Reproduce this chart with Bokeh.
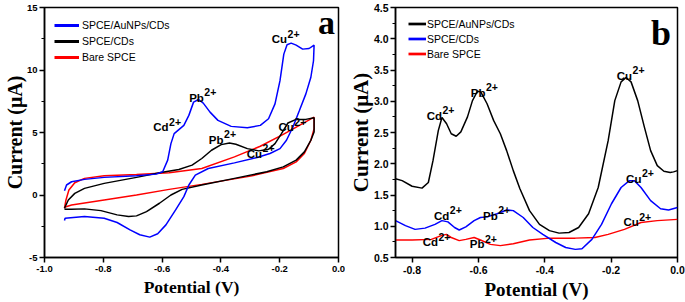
from bokeh.plotting import figure
from bokeh.layouts import row
from bokeh.models import (ColumnDataSource, Legend, LegendItem, FixedTicker,
                          SingleIntervalTicker, PrintfTickFormatter, Label, Range1d)
from bokeh.embed import file_html
from bokeh.resources import INLINE
from bokeh.core.properties import value

# ---------------- Panel a : cyclic voltammograms ----------------
a_blue_x = [-0.932, -0.925, -0.908, -0.864, -0.797, -0.687, -0.620, -0.598, -0.581, -0.570,
            -0.559, -0.543, -0.526, -0.509, -0.493, -0.476, -0.460, -0.437, -0.410, -0.365,
            -0.310, -0.266, -0.238, -0.216, -0.199, -0.186, -0.175, -0.161, -0.144, -0.122,
            -0.100, -0.083,
            -0.085, -0.094, -0.111, -0.133, -0.155, -0.177, -0.199, -0.233, -0.277, -0.354,
            -0.443, -0.487, -0.509, -0.526, -0.554, -0.587, -0.615, -0.642, -0.676, -0.709,
            -0.753, -0.797, -0.864, -0.930, -0.932]
a_blue_y = [0.34, 0.80, 1.06, 1.25, 1.41, 1.54, 1.67, 1.86, 2.79, 4.11,
            4.91, 5.23, 5.57, 6.37, 7.43, 7.64, 7.35, 6.63, 5.97, 5.49,
            5.38, 5.57, 6.10, 7.29, 9.15, 11.27, 12.02, 12.15, 11.99, 11.67,
            11.72, 11.99,
            10.74, 9.42, 8.09, 6.76, 5.44, 4.38, 3.71, 3.32, 3.00, 2.57,
            2.12, 1.59, 0.80, -0.13, -1.19, -2.39, -3.10, -3.37, -3.18, -2.79,
            -2.20, -1.86, -1.72, -1.86, -2.04]

a_black_x = [-0.932, -0.919, -0.897, -0.864, -0.797, -0.687, -0.609, -0.543, -0.498, -0.465,
             -0.432, -0.399, -0.371, -0.349, -0.310, -0.271, -0.238, -0.216, -0.194, -0.172,
             -0.144, -0.111, -0.083,
             -0.083, -0.094, -0.116, -0.144, -0.188, -0.244, -0.354, -0.465, -0.532, -0.570,
             -0.609, -0.653, -0.687, -0.714, -0.753, -0.808, -0.864, -0.908, -0.932]
a_black_y = [-1.06, -0.40, 0.13, 0.53, 0.93, 1.41, 1.78, 2.04, 2.39, 2.92,
             3.58, 4.03, 4.16, 4.06, 3.71, 3.53, 3.66, 4.11, 4.91, 5.76,
             6.05, 6.05, 6.18,
             5.04, 4.38, 3.45, 2.79, 2.25, 1.86, 1.33, 0.80, 0.45, 0.00,
             -0.66, -1.33, -1.67, -1.72, -1.59, -1.25, -1.11, -1.14, -1.14]

a_red_x = [-0.932, -0.927, -0.917, -0.897, -0.864, -0.797, -0.687, -0.576, -0.465, -0.354,
           -0.266, -0.188, -0.133, -0.083,
           -0.083, -0.094, -0.116, -0.144, -0.188, -0.299, -0.465, -0.576, -0.687, -0.797,
           -0.908, -0.932]
a_red_y = [-1.06, -0.40, 0.40, 0.98, 1.33, 1.54, 1.64, 1.78, 2.12, 3.05,
           3.90, 4.85, 5.57, 6.23,
           5.31, 4.38, 3.32, 2.65, 2.12, 1.51, 0.85, 0.45, 0.00, -0.40,
           -0.80, -0.98]

a_series = ["SPCE/AuNPs/CDs", "SPCE/CDs", "Bare SPCE"]
a_xticks = [-1.0, -0.8, -0.6, -0.4, -0.2, 0.0]

a_ann_ion = ["Cu", "Pb", "Cd", "Pb", "Cu", "Cu"]
a_ann_x = [-0.227, -0.508, -0.630, -0.441, -0.312, -0.204]
a_ann_y = [12.46, 7.80, 5.42, 4.42, 3.31, 5.42]

# ---------------- Panel b : differential pulse voltammograms ----------------
b_black_x = [-0.850, -0.830, -0.800, -0.770, -0.751, -0.737, -0.721, -0.710, -0.696, -0.682,
             -0.667, -0.653, -0.633, -0.618, -0.603, -0.593, -0.574, -0.554, -0.534, -0.515,
             -0.495, -0.475, -0.446, -0.416, -0.386, -0.357, -0.327, -0.298, -0.268, -0.239,
             -0.209, -0.189, -0.170, -0.155, -0.140, -0.120, -0.100, -0.081, -0.061, -0.041,
             -0.022, -0.012, 0.0]
b_black_y = [1.76, 1.73, 1.64, 1.61, 1.70, 2.05, 2.53, 2.74, 2.64, 2.48,
             2.44, 2.51, 2.75, 3.01, 3.16, 3.15, 2.96, 2.69, 2.48, 2.21,
             1.89, 1.60, 1.25, 1.03, 0.93, 0.89, 0.90, 0.98, 1.20, 1.62,
             2.37, 3.01, 3.31, 3.38, 3.31, 3.01, 2.59, 2.21, 1.97, 1.88,
             1.86, 1.87, 1.89]

b_blue_x = [-0.850, -0.820, -0.791, -0.761, -0.731, -0.710, -0.692, -0.672, -0.658, -0.638,
            -0.613, -0.594, -0.574, -0.544, -0.515, -0.495, -0.465, -0.436, -0.406, -0.367,
            -0.337, -0.308, -0.288, -0.258, -0.229, -0.199, -0.170, -0.145, -0.130, -0.110,
            -0.081, -0.051, -0.027, 0.0]
b_blue_y = [1.09, 1.01, 0.95, 0.97, 1.03, 1.09, 1.07, 0.98, 0.94, 0.99,
            1.09, 1.14, 1.15, 1.20, 1.26, 1.25, 1.14, 0.98, 0.87, 0.74,
            0.66, 0.63, 0.64, 0.79, 1.03, 1.36, 1.62, 1.73, 1.73, 1.62,
            1.41, 1.28, 1.26, 1.30]

b_red_x = [-0.850, -0.800, -0.742, -0.712, -0.697, -0.682, -0.658, -0.638, -0.613, -0.594,
           -0.564, -0.534, -0.495, -0.446, -0.386, -0.308, -0.249, -0.209, -0.160, -0.110,
           -0.061, 0.0]
b_red_y = [0.78, 0.78, 0.79, 0.85, 0.87, 0.82, 0.77, 0.79, 0.82, 0.78,
           0.71, 0.69, 0.72, 0.78, 0.81, 0.81, 0.82, 0.87, 0.95, 1.06,
           1.09, 1.11]

b_series = ["SPCE/AuNPs/CDs", "SPCE/CDs", "Bare SPCE"]
b_xticks = [-0.8, -0.6, -0.4, -0.2, 0.0]

b_ann_ion = ["Cu", "Pb", "Cd", "Cu", "Cd", "Pb", "Cu", "Cd", "Pb"]
b_ann_x = [-0.183, -0.623, -0.756, -0.155, -0.734, -0.586, -0.163, -0.768, -0.626]
b_ann_y = [3.41, 3.14, 2.77, 1.757, 1.17, 1.17, 1.064, 0.745, 0.71]

charge = "2+"

# ---------------- styling helpers ----------------
BLUE = "#0000ff"
RED = "#ff0000"
BLACK = "#000000"
SANS = "Liberation Sans"
SERIF = "Liberation Serif"
CHAR_W = {"C": 0.722, "u": 0.611, "P": 0.667, "b": 0.611, "d": 0.611}
NAN = float("nan")


def style_axes(p, tick_size, xlab_size, ylab_size, ylab_standoff, tick_standoff_y):
    p.xgrid.visible = False
    p.ygrid.visible = False
    p.outline_line_color = "black"
    p.outline_line_width = 1.5
    p.outline_line_alpha = 1.0
    p.background_fill_color = "white"
    p.border_fill_color = "white"
    for ax in (p.xaxis[0], p.yaxis[0]):
        ax.axis_line_width = 1.5
        ax.major_tick_line_width = 1.5
        ax.minor_tick_line_width = 1.2
        ax.major_tick_in = 0
        ax.major_tick_out = 5
        ax.minor_tick_in = 0
        ax.minor_tick_out = 3
        ax.major_label_text_font = SANS
        ax.major_label_text_font_style = "bold"
        ax.major_label_text_font_size = tick_size
        ax.major_label_text_color = "black"
        ax.axis_label_text_font = SERIF
        ax.axis_label_text_font_style = "bold"
        ax.axis_label_text_color = "black"
    p.xaxis[0].axis_label_text_font_size = xlab_size
    p.yaxis[0].axis_label_text_font_size = ylab_size
    p.xaxis[0].major_label_standoff = 3
    p.xaxis[0].axis_label_standoff = 2
    p.yaxis[0].major_label_standoff = tick_standoff_y
    p.yaxis[0].axis_label_standoff = ylab_standoff


def add_annotations(p, ions, xs, ys):
    offs = [sum(CHAR_W[c] for c in ion) * 11.5 + 0.5 for ion in ions]
    src = ColumnDataSource(dict(x=xs, y=ys, t=ions, sup=[charge] * len(ions), off=offs))
    p.text(x="x", y="y", text="t", source=src, text_font=value(SANS), text_font_style="bold",
           text_font_size="11.5px", text_color="black", text_align="left",
           text_baseline="alphabetic")
    p.text(x="x", y="y", text="sup", x_offset="off", y_offset=-5.5, source=src,
           text_font=value(SANS), text_font_style="bold", text_font_size="10.5px",
           text_color="black", text_align="left", text_baseline="alphabetic")


def add_legend(p, names, colors, loc, glyph_w, row_h, standoff, lw):
    items = []
    for name, col in zip(names, colors):
        r = p.line(x=[NAN, NAN], y=[NAN, NAN], line_color=col, line_width=lw)
        items.append(LegendItem(label=name, renderers=[r]))
    leg = Legend(items=items, location=loc, orientation="vertical",
                 border_line_color=None, background_fill_alpha=0.0,
                 padding=0, margin=0, spacing=0,
                 glyph_width=glyph_w, glyph_height=row_h, label_height=row_h,
                 label_standoff=standoff, label_text_font=SANS,
                 label_text_font_size="10.5px", label_text_color="black")
    p.add_layout(leg)


# ---------------- figure a ----------------
pa = figure(width=345, height=302, output_backend="svg", toolbar_location=None,
            x_range=Range1d(-1.0, 0.0), y_range=Range1d(-5, 15),
            min_border_left=38, min_border_right=7, min_border_top=6, min_border_bottom=44,
            x_axis_label="Potential (V)", y_axis_label="Current (\u03bcA)")
pa.xaxis[0].ticker = FixedTicker(ticks=a_xticks)
pa.xaxis[0].formatter = PrintfTickFormatter(format="%.1f")
pa.yaxis[0].ticker = SingleIntervalTicker(interval=5, num_minor_ticks=2)
pa.yaxis[0].formatter = PrintfTickFormatter(format="%d")
style_axes(pa, "9.5px", "17.5px", "20px", -2, 2)

pa.line(a_red_x, a_red_y, line_color=RED, line_width=1.5)
pa.line(a_black_x, a_black_y, line_color=BLACK, line_width=1.5)
pa.line(a_blue_x, a_blue_y, line_color=BLUE, line_width=1.5)
add_annotations(pa, a_ann_ion, a_ann_x, a_ann_y)
add_legend(pa, a_series, [BLUE, BLACK, RED], (10, 192), 25, 16, 3, 3)
pa.add_layout(Label(x=-0.07, y=13.8, text="a", text_font=SERIF, text_font_style="bold",
                    text_font_size="34px", text_color="black", text_baseline="alphabetic"))

# ---------------- figure b ----------------
pb = figure(width=340, height=302, output_backend="svg", toolbar_location=None,
            x_range=Range1d(-0.85, 0.0), y_range=Range1d(0.5, 4.5),
            min_border_left=44, min_border_right=8, min_border_top=7, min_border_bottom=45,
            x_axis_label="Potential (V)", y_axis_label="Current (\u03bcA)")
pb.xaxis[0].ticker = FixedTicker(ticks=b_xticks)
pb.xaxis[0].formatter = PrintfTickFormatter(format="%.1f")
pb.yaxis[0].ticker = SingleIntervalTicker(interval=0.5, num_minor_ticks=2)
pb.yaxis[0].formatter = PrintfTickFormatter(format="%.1f")
style_axes(pb, "10.5px", "19px", "21px", -2, 2)

pb.line(b_red_x, b_red_y, line_color=RED, line_width=1.5)
pb.line(b_blue_x, b_blue_y, line_color=BLUE, line_width=1.5)
pb.line(b_black_x, b_black_y, line_color=BLACK, line_width=1.5)
add_annotations(pb, b_ann_ion, b_ann_x, b_ann_y)
add_legend(pb, b_series, [BLACK, BLUE, RED], (13, 196), 18, 15, 1, 2.7)
pb.add_layout(Label(x=-0.08, y=4.1, text="b", text_font=SERIF, text_font_style="bold",
                    text_font_size="36px", text_color="black", text_baseline="alphabetic"))

layout = row(pa, pb)
open("out.html", "w").write(file_html(layout, INLINE))
